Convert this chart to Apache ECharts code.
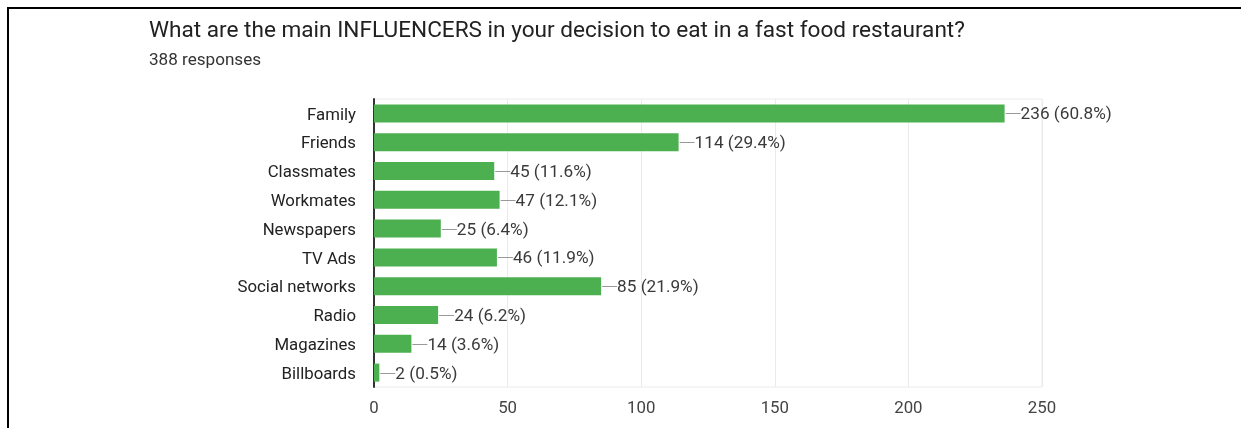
<!DOCTYPE html>
<html>
<head>
<meta charset="utf-8">
<script src="https://cdn.jsdelivr.net/npm/echarts@6/dist/echarts.min.js"></script>
<style>
  html, body { margin: 0; padding: 0; background: #fff; }
  #frame { position: absolute; left: 7px; top: 7px; width: 1234px; height: 421px;
           border-top: 2px solid #000; border-left: 2px solid #000; box-sizing: border-box; }
  #chart { position: absolute; left: 0; top: 0; width: 1241px; height: 428px; }
</style>
</head>
<body>
<div id="frame"></div>
<div id="chart"></div>
<script>
// Survey answers: influencers for eating at a fast food restaurant (388 responses)
const categories = ['Family', 'Friends', 'Classmates', 'Workmates', 'Newspapers',
                    'TV Ads', 'Social networks', 'Radio', 'Magazines', 'Billboards'];
const counts = [236, 114, 45, 47, 25, 46, 85, 24, 14, 2];
const percents = ['60.8%', '29.4%', '11.6%', '12.1%', '6.4%', '11.9%', '21.9%', '6.2%', '3.6%', '0.5%'];
const xTicks = [0, 50, 100, 150, 200, 250];

const FONT = 'Roboto, "Liberation Sans", Arial, sans-serif';
const chart = echarts.init(document.getElementById('chart'), null, { renderer: 'canvas' });

const labelData = counts.map((v, i) => [v, i, percents[i]]);

chart.setOption({
  animation: false,
  title: {
    text: 'What are the main INFLUENCERS in your decision to eat in a fast food restaurant?',
    subtext: '388 responses',
    left: 144,
    top: 15,
    itemGap: 9,
    textStyle: { fontFamily: FONT, fontSize: 22.6, fontWeight: 'normal', color: '#212121' },
    subtextStyle: { fontFamily: FONT, fontSize: 17.1, color: '#333' }
  },
  grid: { left: 374, right: 1241 - 1042, top: 99, bottom: 428 - 387,
          show: true, borderColor: '#ebebeb', borderWidth: 1, containLabel: false },
  xAxis: {
    type: 'value', min: xTicks[0], max: xTicks[xTicks.length - 1], interval: 50,
    axisLine: { show: false }, axisTick: { show: false },
    splitLine: { show: true, lineStyle: { color: '#ebebeb', width: 1 } },
    axisLabel: { fontFamily: FONT, fontSize: 16.8, color: '#444', margin: 13 }
  },
  yAxis: {
    type: 'category', data: categories, inverse: true,
    axisLine: { show: true, lineStyle: { color: '#333', width: 2 } },
    axisTick: { show: false },
    axisLabel: {
      margin: 18,
      formatter: function (v) { return '{c|' + v + '}'; },
      rich: { c: { fontFamily: FONT, fontSize: 16.8, color: '#222', padding: [4, 0, 0, 0] } }
    }
  },
  series: [
    {
      type: 'bar', data: counts, barWidth: 18,
      itemStyle: { color: '#4caf50' }, z: 2
    },
    {
      // connector line plus "count (percent)" label at the end of each bar
      type: 'custom',
      data: labelData,
      z: 3,
      renderItem: function (params, api) {
        const p = api.coord([api.value(0), api.value(1)]);
        const x = p[0] + 1, y = Math.round(p[1]) + 0.5;
        const item = labelData[params.dataIndex];
        return {
          type: 'group',
          children: [
            { type: 'line', shape: { x1: x, y1: y, x2: x + 15, y2: y },
              style: { stroke: '#999', lineWidth: 1 } },
            { type: 'text', x: x + 15, y: y + 1,
              style: { text: item[0] + ' (' + item[2] + ')', fontFamily: FONT, fontSize: 17.2,
                       fill: '#3a3a3a', verticalAlign: 'middle', align: 'left' } }
          ]
        };
      }
    }
  ]
});
</script>
</body>
</html>
